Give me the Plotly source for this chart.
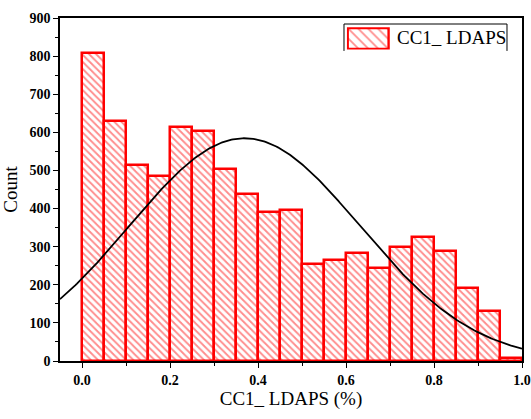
import numpy as np
import plotly.graph_objects as go

# Histogram of CC1_ LDAPS, bin width 0.05 from 0.0 to 1.0
bin_left = [0.00, 0.05, 0.10, 0.15, 0.20, 0.25, 0.30, 0.35, 0.40, 0.45,
            0.50, 0.55, 0.60, 0.65, 0.70, 0.75, 0.80, 0.85, 0.90, 0.95]
counts = [807, 630, 513, 486, 615, 604, 504, 437, 392, 397,
          254, 265, 284, 245, 298, 325, 289, 191, 132, 9]
bin_width = 0.05
series_name = "CC1_ LDAPS"
x_ticks = [0.0, 0.2, 0.4, 0.6, 0.8, 1.0]
y_ticks = [0, 100, 200, 300, 400, 500, 600, 700, 800, 900]

centers = np.array(bin_left) + bin_width / 2
c = np.array(counts, dtype=float)
n = c.sum()
mu = (c * centers).sum() / n
sigma = np.sqrt((c * (centers - mu) ** 2).sum() / n)

# Normal fit scaled to counts
xf = np.linspace(-0.05, 1.0, 300)
yf = n * bin_width / (sigma * np.sqrt(2 * np.pi)) * np.exp(-(xf - mu) ** 2 / (2 * sigma ** 2))

SERIF = "Liberation Serif"
bar_marker = dict(
    color="white",
    line=dict(color="#ff0000", width=2.5),
    pattern=dict(shape="\\", fgcolor="#ff1a1a", bgcolor="white", size=5, solidity=0.38),
)
swatch_marker = dict(
    color="white",
    line=dict(color="#ff0000", width=2.5),
    pattern=dict(shape="\\", fgcolor="#ff1a1a", bgcolor="white", size=7, solidity=0.25),
)

fig = go.Figure()
fig.add_trace(go.Bar(x=centers, y=counts, width=bin_width, name=series_name,
                     marker=bar_marker, showlegend=False))
fig.add_trace(go.Scatter(x=xf, y=yf, mode="lines", line=dict(color="black", width=1.8),
                         showlegend=False, hoverinfo="skip"))

# Legend swatch: one hatched bar on its own small axes
fig.add_trace(go.Bar(x=[0], y=[1], width=1, marker=swatch_marker, xaxis="x2", yaxis="y2",
                     showlegend=False, hoverinfo="skip"))

tick_font = dict(family=SERIF, size=14, color="black")
title_font = dict(family=SERIF, size=19, color="black")

fig.update_layout(
    width=531, height=419,
    margin=dict(l=60, r=9, t=18, b=58),
    paper_bgcolor="white", plot_bgcolor="white",
    bargap=0,
    showlegend=False,
    xaxis=dict(
        range=[-0.05, 1.0], tickvals=x_ticks,
        ticktext=["<b>%.1f</b>" % v for v in x_ticks],
        ticks="outside", ticklen=5, tickwidth=1, tickcolor="black",
        minor=dict(dtick=0.1, tick0=0, ticks="outside", ticklen=3, tickcolor="black"),
        showline=True, linecolor="black", linewidth=1.5, mirror=True,
        showgrid=False, zeroline=False, automargin=False,
        tickfont=tick_font,
        title=dict(text="CC1_ LDAPS (%)", font=title_font, standoff=3),
    ),
    yaxis=dict(
        range=[0, 900], tickvals=y_ticks,
        ticktext=["<b>%d</b>" % v for v in y_ticks],
        ticks="outside", ticklen=5, tickwidth=1, tickcolor="black",
        minor=dict(dtick=50, ticks="outside", ticklen=3, tickcolor="black"),
        showline=True, linecolor="black", linewidth=1.5, mirror=True,
        showgrid=False, zeroline=False, automargin=False,
        tickfont=tick_font,
        title=dict(text="Count", font=title_font, standoff=8),
    ),
    xaxis2=dict(domain=[0.621, 0.714], range=[-0.52, 0.52], visible=False,
                anchor="y2", fixedrange=True),
    yaxis2=dict(domain=[0.908, 0.973], range=[-0.03, 1.03], visible=False,
                anchor="x2", fixedrange=True),
    shapes=[dict(type="path", xref="paper", yref="paper",
                 path="M 0.6147 0.904 L 0.6147 0.9825 L 0.9675 0.9825 L 0.9675 0.904",
                 line=dict(color="black", width=1))],
    annotations=[dict(text=series_name, x=0.725, y=0.943, xref="paper", yref="paper",
                      xanchor="left", yanchor="middle", showarrow=False,
                      font=dict(family=SERIF, size=19, color="black"))],
)

fig.write_html("out.html")
